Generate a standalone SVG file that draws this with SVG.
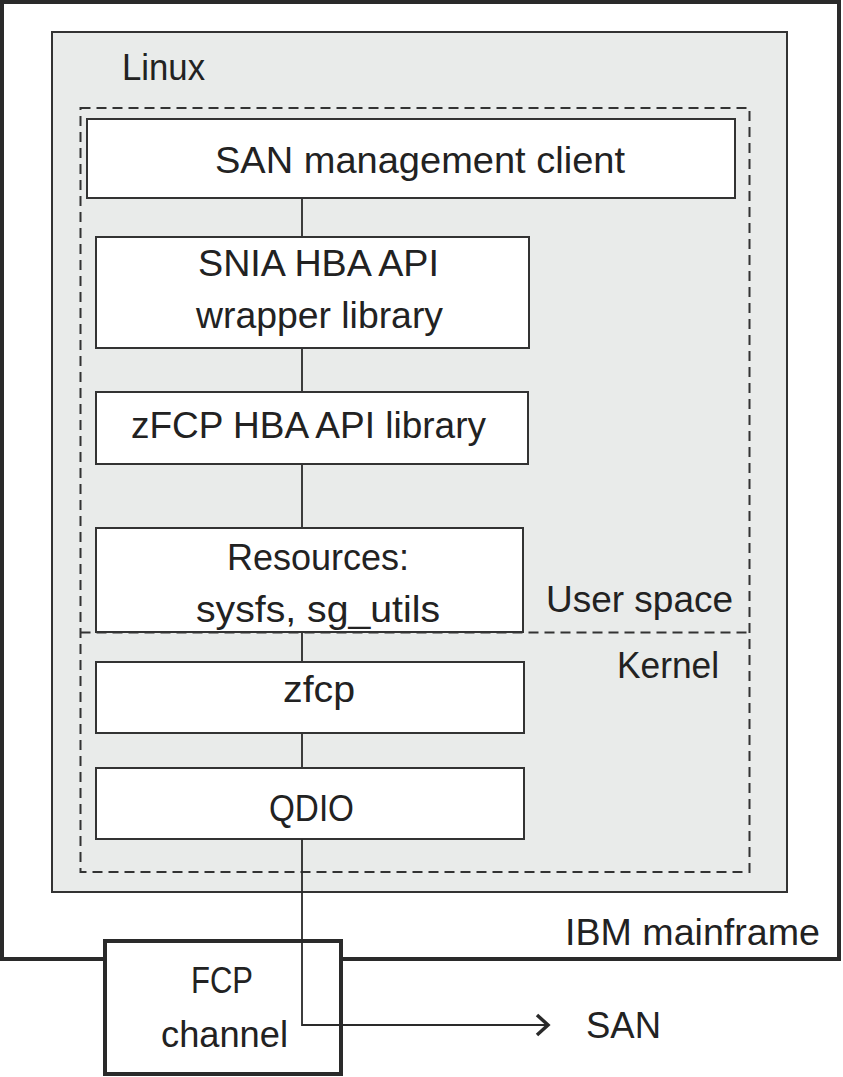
<svg xmlns="http://www.w3.org/2000/svg" width="843" height="1077" viewBox="0 0 843 1077">
<style>
text{font-family:"Liberation Sans Narrow","Liberation Sans",Arial,sans-serif;font-size:36px;fill:#222;}
.box{fill:#fff;stroke:#333;stroke-width:2;}
.con{stroke:#2a2a2a;stroke-width:1.8;fill:none;}
</style>
<defs>
<marker id="arr" markerWidth="16" markerHeight="24" refX="13" refY="12" orient="auto" markerUnits="userSpaceOnUse">
<path d="M2,2 L13,12 L2,22" fill="none" stroke="#2a2a2a" stroke-width="3.5"/>
</marker>
</defs>
<rect width="843" height="1077" fill="#fff"/>
<g id="mainframe">
<rect x="2" y="2" width="837" height="957" fill="#fff" stroke="#2a2a2a" stroke-width="4"/>
<text x="820" y="945" text-anchor="end" textLength="255" lengthAdjust="spacingAndGlyphs">IBM mainframe</text>
</g>
<g id="linux">
<rect x="52" y="32" width="735" height="860" fill="#e9ebea" stroke="#333" stroke-width="2"/>
<text x="122" y="80" textLength="83" lengthAdjust="spacingAndGlyphs">Linux</text>
</g>
<g id="spaces">
<rect x="80.5" y="108" width="669" height="764" fill="none" stroke="#333" stroke-width="2" stroke-dasharray="10,6"/>
<line x1="80.5" y1="632.5" x2="749.5" y2="632.5" stroke="#333" stroke-width="2" stroke-dasharray="10,6"/>
<text x="546" y="612" textLength="187" lengthAdjust="spacingAndGlyphs">User space</text>
<text x="617" y="678" textLength="102" lengthAdjust="spacingAndGlyphs">Kernel</text>
</g>
<g id="connectors">
<line class="con" x1="302" y1="198" x2="302" y2="237"/>
<line class="con" x1="302" y1="348" x2="302" y2="392"/>
<line class="con" x1="302" y1="464" x2="302" y2="528"/>
<line class="con" x1="302" y1="633" x2="302" y2="662"/>
<line class="con" x1="302" y1="733" x2="302" y2="768"/>
</g>
<g id="san-client">
<rect class="box" x="87" y="119" width="648" height="79"/>
<text x="215" y="173" textLength="410" lengthAdjust="spacingAndGlyphs">SAN management client</text>
</g>
<g id="snia">
<rect class="box" x="96" y="237" width="433" height="111"/>
<text x="198" y="276" textLength="241" lengthAdjust="spacingAndGlyphs">SNIA HBA API</text>
<text x="196" y="328" textLength="247" lengthAdjust="spacingAndGlyphs">wrapper library</text>
</g>
<g id="zfcp-hba">
<rect class="box" x="96" y="392" width="432" height="72"/>
<text x="131" y="438" textLength="355" lengthAdjust="spacingAndGlyphs">zFCP HBA API library</text>
</g>
<g id="resources">
<rect class="box" x="96" y="528" width="427" height="104"/>
<text x="227" y="570" textLength="182" lengthAdjust="spacingAndGlyphs">Resources:</text>
<text x="196" y="622" textLength="244" lengthAdjust="spacingAndGlyphs">sysfs, sg_utils</text>
</g>
<g id="zfcp">
<rect class="box" x="96" y="662" width="428" height="71"/>
<text x="283" y="702" textLength="72" lengthAdjust="spacingAndGlyphs">zfcp</text>
</g>
<g id="qdio">
<rect class="box" x="96" y="768" width="428" height="71"/>
<text x="269" y="821" textLength="85" lengthAdjust="spacingAndGlyphs">QDIO</text>
</g>
<g id="fcp-channel">
<rect x="105" y="941" width="236" height="133" fill="#fff" stroke="#2a2a2a" stroke-width="4"/>
<text x="191" y="993" textLength="62" lengthAdjust="spacingAndGlyphs">FCP</text>
<text x="161" y="1047" textLength="127" lengthAdjust="spacingAndGlyphs">channel</text>
</g>
<g id="san-link">
<path class="con" d="M302,839 L302,1025 L548,1025" marker-end="url(#arr)"/>
</g>
<g id="san">
<text x="586" y="1038" textLength="75" lengthAdjust="spacingAndGlyphs">SAN</text>
</g>
</svg>
